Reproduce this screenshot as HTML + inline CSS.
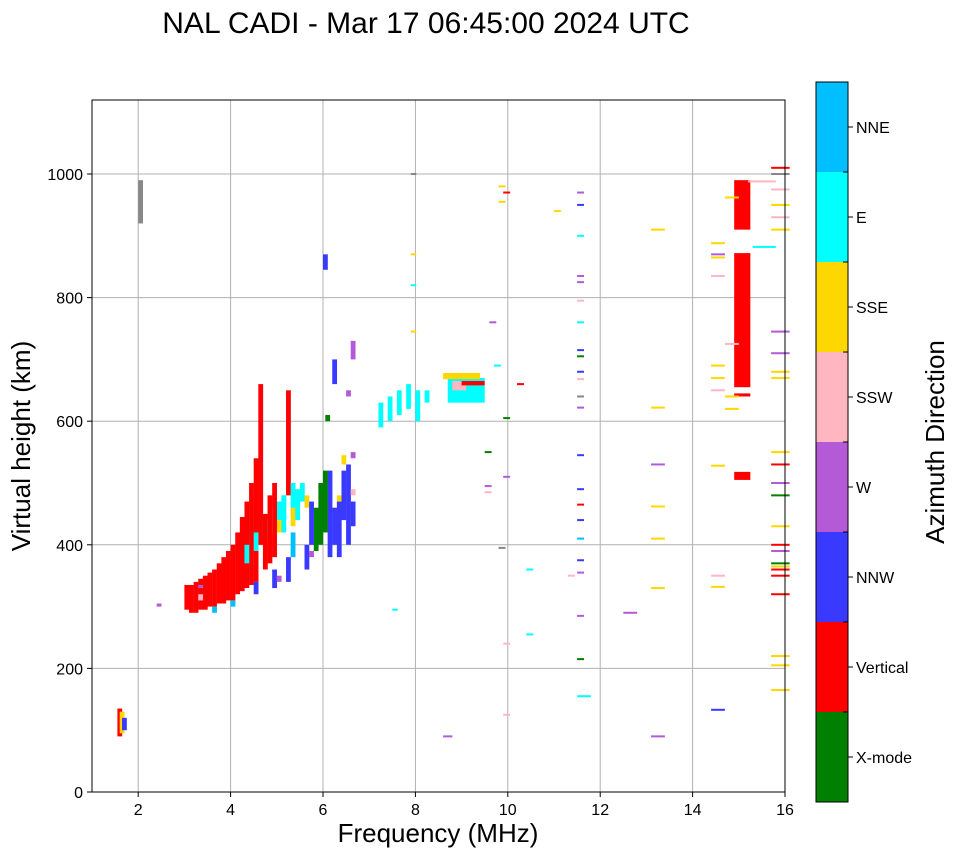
<!DOCTYPE html>
<html><head><meta charset="utf-8"><style>
body{margin:0;background:#fff}
svg{display:block;font-family:"Liberation Sans","DejaVu Sans",sans-serif}
</style></head><body>
<svg id="chart" width="958" height="857" viewBox="0 0 958 857">
<text x="426" y="33" font-size="30" text-anchor="middle">NAL CADI - Mar 17 06:45:00 2024 UTC</text>
<g id="grid"></g>
<g id="marks"></g>
<rect x="92" y="100" width="693" height="692" fill="none" stroke="#000" stroke-width="1"/>
<g id="axes"></g>
<text x="438" y="842" font-size="26" text-anchor="middle">Frequency (MHz)</text>
<text transform="translate(30,446) rotate(-90)" font-size="26" text-anchor="middle">Virtual height (km)</text>
<g id="cbar"></g>
<text transform="translate(944,442) rotate(-90)" font-size="26" text-anchor="middle">Azimuth Direction</text>
</svg>
<script>
const dirNames=["X-mode","Vertical","NNW","W","SSW","SSE","E","NNE"];
const dirColors=["#008000","#ff0000","#3a3aff","#b45ad6","#ffb6c1","#ffd700","#00ffff","#00bfff"];
const xTicks=[2,4,6,8,10,12,14,16];
const yTicks=[0,200,400,600,800,1000];
// columns: freq, h0, h1, direction index
const colF=[3.0,3.1,3.2,3.3,3.4,3.5,3.6,3.7,3.8,3.9,4.0,4.1,4.2,4.3,4.4,4.5,4.6,4.8,5.2,
4.3,4.5,4.7,4.9,5.0,5.1,5.3,5.5,
3.6,4.0,5.3,5.9,
4.5,4.9,5.2,5.6,6.1,6.3,6.5,6.6,6.2,
5.8,5.9,6.0,6.05,
5.0,5.3,5.6,6.4,6.3,
3.3,5.4,6.6,
2.4,3.3,5.0,5.7,6.6,6.6,6.5,
7.2,7.4,7.6,7.8,8.0,8.2,
1.55,1.6,1.65,2.0,6.0,
4.7,4.9,5.1,5.4,5.7,6.2,6.4];
const colH0=[295,290,290,295,295,300,300,305,305,310,310,320,325,330,335,340,400,370,480,
370,390,410,420,430,440,450,470,
290,300,380,420,
320,330,340,360,380,380,400,430,660,
390,400,420,600,
420,430,460,530,470,
310,440,480,
300,330,340,380,540,700,640,
590,600,610,620,600,630,
90,95,100,920,845,
360,380,420,440,400,400,440];
const colH1=[335,335,340,345,350,355,360,370,380,390,400,420,445,470,500,540,660,480,650,
400,420,440,460,470,480,500,500,
300,310,420,430,
340,360,380,400,520,470,530,470,700,
460,500,520,610,
440,460,480,545,480,
320,450,490,
305,335,350,390,550,730,650,
630,640,650,660,650,650,
135,130,120,990,870,
450,500,480,490,470,460,520];
const colD=[1,1,1,1,1,1,1,1,1,1,1,1,1,1,1,1,1,1,1,
6,6,6,6,6,6,6,6,
7,7,7,7,
2,2,2,2,2,2,2,2,2,
0,0,0,0,
5,5,5,5,5,
4,4,4,
3,3,3,3,3,3,3,
6,6,6,6,6,6,
1,5,2,8,2,
1,1,6,6,2,2,2];
// horizontal dashes: freq (left), height, length (MHz), direction
const dashF=[15.7,15.7,15.7,15.7,15.7,15.7,15.7,15.7,15.7,15.7,15.7,15.7,15.7,15.7,15.7,15.7,15.7,15.7,15.7,15.7,15.7,15.7,15.7,15.7,15.7,
15.2,15.3,14.4,14.4,14.4,14.4,14.4,14.4,14.4,14.4,14.4,14.4,14.4,14.7,14.7,14.7,14.7,
13.1,13.1,13.1,13.1,13.1,13.1,13.1,12.5,
11.5,11.5,11.5,11.5,11.5,11.5,11.5,11.5,11.5,11.5,11.5,11.5,11.5,11.5,11.5,11.5,11.5,11.5,11.5,11.5,11.5,11.5,11.5,
9.8,9.9,9.8,9.6,9.7,10.2,9.5,9.5,9.5,9.9,10.4,10.4,11.0,11.3,9.8,9.9,9.9,9.9,8.6,7.9,7.9,7.9,7.9,7.5];
const dashH=[1010,1000,975,950,930,910,745,710,680,670,550,530,500,480,430,400,390,370,365,360,350,320,220,205,165,
988,882,888,870,865,835,690,670,650,528,350,332,133,962,640,620,725,
910,622,530,462,410,330,90,290,
970,950,900,835,825,795,760,715,705,680,668,640,622,545,490,465,440,410,375,355,285,215,155,
980,970,955,760,690,660,550,495,485,510,360,255,940,350,395,605,240,125,90,1000,870,820,745,295];
const dashL=[0.4,0.4,0.4,0.4,0.4,0.4,0.4,0.4,0.4,0.4,0.4,0.4,0.4,0.4,0.4,0.4,0.4,0.4,0.4,0.4,0.4,0.4,0.4,0.4,0.4,
0.6,0.5,0.3,0.3,0.3,0.3,0.3,0.3,0.3,0.3,0.3,0.3,0.3,0.3,0.3,0.3,0.3,
0.3,0.3,0.3,0.3,0.3,0.3,0.3,0.3,
0.15,0.15,0.15,0.15,0.15,0.15,0.15,0.15,0.15,0.15,0.15,0.15,0.15,0.15,0.15,0.15,0.15,0.15,0.15,0.15,0.15,0.15,0.3,
0.15,0.15,0.15,0.15,0.15,0.15,0.15,0.15,0.15,0.15,0.15,0.15,0.15,0.15,0.15,0.15,0.15,0.15,0.2,0.12,0.12,0.12,0.12,0.12];
const dashD=[1,8,4,5,4,5,3,3,5,5,5,1,3,0,5,1,3,0,5,1,1,1,5,5,5,
4,6,5,3,5,4,5,5,4,5,4,5,2,5,5,5,4,
5,5,3,5,5,5,3,3,
3,2,6,3,3,4,6,2,0,2,4,8,3,2,2,1,2,7,2,3,3,0,6,
5,1,5,3,6,1,0,3,4,3,6,6,5,4,8,0,4,4,3,8,5,6,5,6];
// blocks: freq left, freq right, h0, h1, dir
const blkF0=[8.7,8.8,14.9,14.9,14.9,14.9,8.6,9.0];
const blkF1=[9.5,9.1,15.25,15.25,15.25,15.25,9.4,9.5];
const blkH0=[630,650,910,655,640,505,668,658];
const blkH1=[670,665,990,872,645,518,678,665];
const blkD=[6,4,1,1,1,1,5,1];

const X=f=>92+(f-1)*(785-92)/15;
const Y=h=>792-h*0.618;
const NS="http://www.w3.org/2000/svg";
function el(tag,attrs,parent){const e=document.createElementNS(NS,tag);for(const k in attrs)e.setAttribute(k,attrs[k]);parent.appendChild(e);return e;}
const col=d=>d===8?"#888":dirColors[d];
const grid=document.getElementById('grid'),axes=document.getElementById('axes'),marks=document.getElementById('marks'),cbar=document.getElementById('cbar');
xTicks.forEach(t=>{const x=X(t);
 const g=el('line',{x1:x,x2:x,y1:100,y2:792,stroke:'#b0b0b0','stroke-width':1},grid);
 
 
 el('line',{x1:x,x2:x,y1:792,y2:797,stroke:'#000'},axes);
 const tx=el('text',{x:x,y:815,'font-size':16,'text-anchor':'middle'},axes);tx.textContent=t;
 
 
});
yTicks.forEach(t=>{const y=Y(t);
 const g=el('line',{x1:92,x2:785,y1:y,y2:y,stroke:'#b0b0b0','stroke-width':1},grid);
 
 
 el('line',{x1:87,x2:92,y1:y,y2:y,stroke:'#000'},axes);
 const tx=el('text',{x:83,y:y+6,'font-size':16,'text-anchor':'end'},axes);tx.textContent=t;
 
 
});
colF.forEach((f,i)=>{const y1=Y(colH1[i]),y0=Y(colH0[i]);
 const r=el('rect',{x:X(f),y:y1,width:4.8,height:Math.max(3,y0-y1),fill:col(colD[i])},marks);
 
 
});
blkF0.forEach((f,i)=>{const y1=Y(blkH1[i]),y0=Y(blkH0[i]);
 const r=el('rect',{x:X(f),y:y1,width:X(blkF1[i])-X(f),height:Math.max(3,y0-y1),fill:col(blkD[i])},marks);
 
 
});
dashF.forEach((f,i)=>{
 const r=el('rect',{x:X(f),y:Y(dashH[i])-1,width:X(f+dashL[i])-X(f),height:2,fill:col(dashD[i])},marks);
 
 
});
const cbTop=82,cbH=720,bandH=cbH/8;
dirNames.forEach((n,i)=>{const y=cbTop+cbH-(i+1)*bandH;
 const r=el('rect',{x:816,y:y,width:32,height:bandH,fill:dirColors[i]},cbar);
 
 
 el('line',{x1:848,x2:853,y1:y+bandH/2,y2:y+bandH/2,stroke:'#000'},cbar);
 const tx=el('text',{x:856,y:y+bandH/2+6,'font-size':16},cbar);tx.textContent=n;
 
 
});
for(let i=0;i<=8;i++){el('line',{x1:843,x2:848,y1:cbTop+i*bandH,y2:cbTop+i*bandH,stroke:'#000'},cbar);}
el('rect',{x:816,y:cbTop,width:32,height:cbH,fill:'none',stroke:'#000'},cbar);
</script>
</body></html>
